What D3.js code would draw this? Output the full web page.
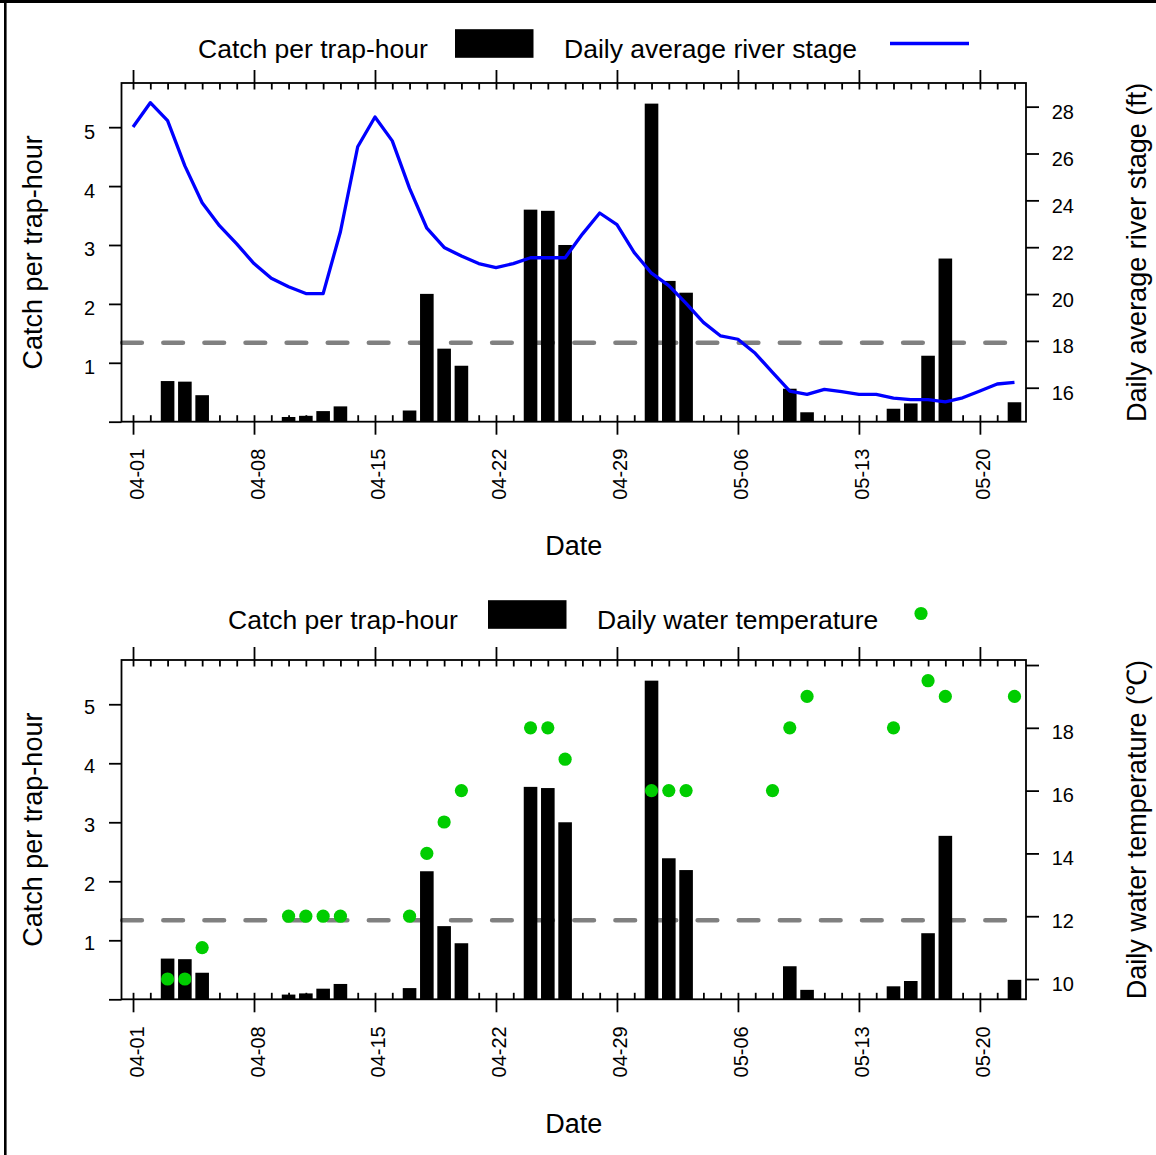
<!DOCTYPE html>
<html>
<head>
<meta charset="utf-8">
<script src="https://cdn.jsdelivr.net/npm/d3@7"></script>
<style>
body { margin: 0; background: #fff; }
svg text { font-family: "Liberation Sans", Arial, sans-serif; fill: #000; }
</style>
</head>
<body>
<div id="chart"></div>
<script>
// Catch per trap-hour (same in both panels)
var catchDates = ["04-03","04-04","04-05","04-10","04-11","04-12","04-13","04-17","04-18","04-19",
                  "04-20","04-24","04-25","04-26","05-01","05-02","05-03","05-09","05-10","05-15",
                  "05-16","05-17","05-18","05-22"];
var catchValues = [0.69, 0.68, 0.45, 0.08, 0.10, 0.18, 0.26, 0.19, 2.17, 1.24,
                   0.95, 3.60, 3.58, 3.00, 5.40, 2.39, 2.19, 0.56, 0.16, 0.22,
                   0.31, 1.12, 2.77, 0.33];

// Daily average river stage (ft)
var stageDates = ["04-01","04-02","04-03","04-04","04-05","04-06","04-07","04-08","04-09","04-10",
                  "04-11","04-12","04-13","04-14","04-15","04-16","04-17","04-18","04-19","04-20",
                  "04-21","04-22","04-23","04-24","04-25","04-26","04-27","04-28","04-29","04-30",
                  "05-01","05-02","05-03","05-04","05-05","05-06","05-07","05-08","05-09","05-10",
                  "05-11","05-12","05-13","05-14","05-15","05-16","05-17","05-18","05-19","05-20",
                  "05-21","05-22"];
var stageValues = [27.13, 28.17, 27.40, 25.47, 23.90, 22.92, 22.14, 21.30, 20.67, 20.31,
                   20.02, 20.02, 22.66, 26.29, 27.56, 26.54, 24.51, 22.81, 21.99, 21.62,
                   21.30, 21.13, 21.30, 21.55, 21.55, 21.55, 22.56, 23.46, 22.96, 21.77,
                   20.89, 20.36, 19.60, 18.79, 18.21, 18.07, 17.47, 16.66, 15.86, 15.72,
                   15.93, 15.83, 15.72, 15.72, 15.56, 15.49, 15.49, 15.40, 15.57, 15.86,
                   16.16, 16.23];

// Daily water temperature (C)
var tempDates = ["04-03","04-04","04-05","04-10","04-11","04-12","04-13","04-17","04-18","04-19",
                 "04-20","04-24","04-25","04-26","05-01","05-02","05-03","05-08","05-09","05-10",
                 "05-15","05-17","05-18","05-22"];
var tempValues = [10, 10, 11, 12, 12, 12, 12, 12, 14, 15,
                  16, 18, 18, 17, 16, 16, 16, 16, 18, 19,
                  18, 19.5, 19, 19];

// Reference level on the catch axis
var refLevel = 1.34;

// Axis ticks
var weekTicks = ["04-01","04-08","04-15","04-22","04-29","05-06","05-13","05-20"];
var catchTicks = [0, 1, 2, 3, 4, 5];
var stageTicks = [16, 18, 20, 22, 24, 26, 28];
var tempTicks = [10, 12, 14, 16, 18, 20];
var catchLabelled = [1, 2, 3, 4, 5];
var tempLabelled = [10, 12, 14, 16, 18];

var parseDay = function(s) { return d3.utcParse("%Y-%m-%d")("2013-" + s); };

var width = 1156, height = 1155;
var boxLeft = 121.5, boxRight = 1026;
var font = '"Liberation Sans", Arial, sans-serif';

var svg = d3.select("#chart").append("svg")
    .attr("width", width)
    .attr("height", height);

// cropped outer frame
svg.append("line").attr("x1", 0).attr("x2", width).attr("y1", 1.5).attr("y2", 1.5)
    .attr("stroke", "#000").attr("stroke-width", 3);
svg.append("line").attr("x1", 5.3).attr("x2", 5.3).attr("y1", 0).attr("y2", height)
    .attr("stroke", "#000").attr("stroke-width", 2.6);

var x = d3.scaleUtc()
    .domain([d3.utcHour.offset(parseDay("04-01"), -16), d3.utcHour.offset(parseDay("05-22"), 16)])
    .range([boxLeft, boxRight]);
var allDays = stageDates.map(parseDay);
var barWidth = 13.6;

function drawPanel(p) {
    var g = svg.append("g");
    var yL = d3.scaleLinear().domain([0, 5.75]).range([p.bottom, p.top]);
    var yR = d3.scaleLinear().domain(p.rightDomain).range([p.bottom, p.top]);

    // dashed reference line
    g.append("line")
        .attr("x1", boxLeft + 0.8).attr("x2", 1008 - 2.35)
        .attr("y1", yL(refLevel)).attr("y2", yL(refLevel))
        .attr("stroke", "#808080")
        .attr("stroke-width", 4.7)
        .attr("stroke-linecap", "round")
        .attr("stroke-dasharray", "19.5,21.6");

    // bars
    g.append("g").selectAll("rect")
        .data(catchDates)
        .enter().append("rect")
        .attr("x", function(d) { return x(parseDay(d)) - barWidth / 2; })
        .attr("width", barWidth)
        .attr("y", function(d, i) { return yL(catchValues[i]); })
        .attr("height", function(d, i) { return yL(0) - yL(catchValues[i]); })
        .attr("fill", "#000");

    if (p.kind === "stage") {
        var line = d3.line()
            .x(function(d) { return x(parseDay(d)); })
            .y(function(d, i) { return yR(stageValues[i]); });
        g.append("path")
            .datum(stageDates)
            .attr("d", line)
            .attr("fill", "none")
            .attr("stroke", "#0000ff")
            .attr("stroke-width", 3.3)
            .attr("stroke-linejoin", "round");
    } else {
        g.append("g").selectAll("circle")
            .data(tempDates)
            .enter().append("circle")
            .attr("cx", function(d) { return x(parseDay(d)); })
            .attr("cy", function(d, i) { return yR(tempValues[i]); })
            .attr("r", 6.6)
            .attr("fill", "#00cd00");
    }

    // box
    g.append("rect")
        .attr("x", boxLeft).attr("y", p.top)
        .attr("width", boxRight - boxLeft).attr("height", p.bottom - p.top)
        .attr("fill", "none").attr("stroke", "#000").attr("stroke-width", 1.8);

    // daily ticks (inward), weekly ticks (outward) on top and bottom
    var minorB = g.append("g").attr("transform", "translate(0," + p.bottom + ")")
        .call(d3.axisBottom(x).tickValues(allDays).tickSize(-6.5).tickSizeOuter(0).tickFormat(""));
    var minorT = g.append("g").attr("transform", "translate(0," + p.top + ")")
        .call(d3.axisTop(x).tickValues(allDays).tickSize(-6.5).tickSizeOuter(0).tickFormat(""));
    var majorT = g.append("g").attr("transform", "translate(0," + p.top + ")")
        .call(d3.axisTop(x).tickValues(weekTicks.map(parseDay)).tickSize(13).tickSizeOuter(0).tickFormat(""));
    var majorB = g.append("g").attr("transform", "translate(0," + p.bottom + ")")
        .call(d3.axisBottom(x).tickValues(weekTicks.map(parseDay)).tickSize(13).tickSizeOuter(0)
            .tickFormat(d3.utcFormat("%m-%d")));
    majorB.selectAll("text")
        .attr("transform", "rotate(-90)")
        .attr("text-anchor", "end")
        .attr("x", -27)
        .attr("y", 0)
        .attr("dy", "0.5em");

    // left axis
    var left = g.append("g").attr("transform", "translate(" + boxLeft + ",0)")
        .call(d3.axisLeft(yL).tickValues(catchTicks).tickSize(12.5).tickSizeOuter(0).tickPadding(14)
            .tickFormat(function(d) { return catchLabelled.indexOf(d) >= 0 ? d : ""; }));
    left.selectAll("text").attr("dy", p.leftDy);

    // right axis
    var right = g.append("g").attr("transform", "translate(" + boxRight + ",0)")
        .call(d3.axisRight(yR).tickValues(p.rightTicks).tickSize(13).tickSizeOuter(0).tickPadding(12.7)
            .tickFormat(function(d) { return p.rightLabelled.indexOf(d) >= 0 ? d : ""; }));
    right.selectAll("text").attr("dy", p.rightDy);

    [minorB, minorT, majorT, majorB, left, right].forEach(function(a) {
        a.select(".domain").remove();
        a.selectAll("line").attr("stroke", "#000").attr("stroke-width", 1.8);
        a.selectAll("text").attr("font-family", font).attr("font-size", 20).attr("fill", "#000");
    });

    // axis titles
    g.append("text")
        .attr("transform", "translate(42.3," + (p.top + p.bottom) / 2 + ") rotate(-90)")
        .attr("text-anchor", "middle")
        .attr("font-size", 27)
        .text("Catch per trap-hour");
    g.append("text")
        .attr("transform", "translate(1146," + (p.top + p.bottom) / 2 + ") rotate(-90)")
        .attr("text-anchor", "middle")
        .attr("font-size", 27)
        .text(p.rightTitle);
    g.append("text")
        .attr("x", (boxLeft + boxRight) / 2)
        .attr("y", p.bottom + 133.5)
        .attr("text-anchor", "middle")
        .attr("font-size", 27)
        .text("Date");

    // legend: symbols share one centre line
    var cy = p.leg.base - 14.2;
    var lg = g.append("g").attr("font-size", 26.5);
    lg.append("text").attr("x", p.leg.t1).attr("y", p.leg.base).text("Catch per trap-hour");
    lg.append("rect").attr("x", p.leg.rx).attr("y", cy - 14.3)
        .attr("width", 78.5).attr("height", 28.6).attr("fill", "#000");
    lg.append("text").attr("x", p.leg.t2).attr("y", p.leg.base).text(p.legText);
    if (p.kind === "stage") {
        lg.append("line").attr("x1", p.leg.sx - 39.5).attr("x2", p.leg.sx + 39.5)
            .attr("y1", cy).attr("y2", cy)
            .attr("stroke", "#0000ff").attr("stroke-width", 3.3);
    } else {
        lg.append("circle").attr("cx", p.leg.sx).attr("cy", cy - 1)
            .attr("r", 6.6).attr("fill", "#00cd00");
    }
}

drawPanel({
    kind: "stage",
    top: 83, bottom: 421.7,
    rightDomain: [14.55, 29.01],
    rightTicks: stageTicks,
    rightLabelled: stageTicks,
    leftDy: "0.55em", rightDy: "0.6em",
    rightTitle: "Daily average river stage (ft)",
    legText: "Daily average river stage",
    leg: { base: 57.7, t1: 198, rx: 455, t2: 564, sx: 929.5 }
});

drawPanel({
    kind: "temp",
    top: 660, bottom: 999.3,
    rightDomain: [9.354, 20.16],
    rightTicks: tempTicks,
    rightLabelled: tempLabelled,
    leftDy: "0.45em", rightDy: "0.55em",
    rightTitle: "Daily water temperature (\u2103)",
    legText: "Daily water temperature",
    leg: { base: 628.7, t1: 228, rx: 488, t2: 597, sx: 921 }
});
</script>
</body>
</html>
